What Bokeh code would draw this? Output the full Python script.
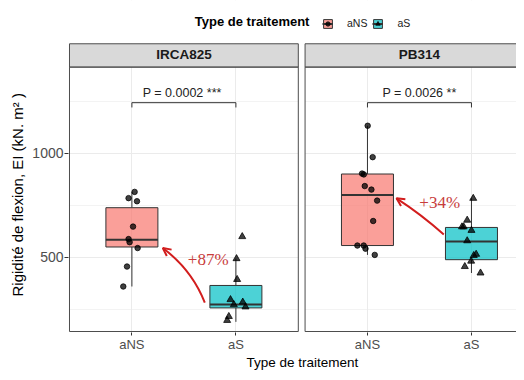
import math
from bokeh.plotting import figure
from bokeh.models import (Range1d, FixedTicker, CustomJSTickFormatter, Label, Legend, Title,
                          LegendItem, Arrow, OpenHead, ColumnDataSource)
from bokeh.embed import file_html
from bokeh.resources import INLINE
from bokeh.core.properties import value

# ---------------- data ----------------
genotypes = ["IRCA825", "PB314"]
treatments = ["aNS", "aS"]

# box statistics (one entry per genotype x treatment)
box_geno = ["IRCA825", "IRCA825", "PB314", "PB314"]
box_trt = ["aNS", "aS", "aNS", "aS"]
box_low = [360, 190, 512, 425]
box_q1 = [550, 257, 557, 489]
box_med = [585, 273, 800, 577]
box_q3 = [739, 365, 901, 644]
box_high = [815, 494, 1133, 784]

# individual (jittered) observations
irca_ans_vals = [815, 785, 770, 648, 588, 573, 545, 456, 360]
irca_ans_jit = [0.026, -0.032, 0.049, 0.011, -0.032, -0.022, 0.055, -0.047, -0.083]
irca_as_vals = [600, 494, 394, 297, 273, 285, 262, 216, 197]
irca_as_jit = [0.061, 0.006, 0.012, -0.052, -0.020, 0.066, 0.092, -0.068, -0.084]
pb_ans_vals = [1133, 982, 903, 899, 843, 826, 773, 675, 557, 557, 542, 512]
pb_ans_jit = [0.002, 0.050, -0.052, -0.035, -0.026, 0.038, 0.093, 0.055, -0.097, -0.036, -0.019, 0.070]
pb_as_vals = [784, 679, 647, 647, 630, 580, 515, 509, 482, 456, 425]
pb_as_jit = [0.017, -0.041, -0.091, -0.075, 0.0, -0.041, 0.045, 0.022, -0.003, -0.064, 0.087]

# statistical annotations
p_labels = ["P = 0.0002  ***", "P = 0.0026 **"]
bracket_y = [1244, 1244]
bracket_tip = [1221, 1221]
pct_labels = ["+87%", "+34%"]

# ---------------- layout helpers ----------------
panel_offset = {"IRCA825": 0.0, "PB314": 2.265}
trt_pos = {"aNS": 1.0, "aS": 2.0}
fill_col = {"aNS": "#F8766D", "aS": "#00BFC4"}
marker = {"aNS": "circle", "aS": "triangle"}
msize = {"aNS": 5.5, "aS": 7}
BOX_W = 0.5

X0, X1 = 0.3904, 4.698
Y0, Y1 = 138.8, 1735.4
PANEL_LO, PANEL_HI = 0.4, 2.6
PANEL_BOT, STRIP_BOT, STRIP_TOP = 143.6, 1415, 1527.3
RED = "#D21E1E"
FONT = "Liberation Sans"

p = figure(width=516, height=372, x_range=Range1d(X0, X1), y_range=Range1d(Y0, Y1),
           output_backend="svg", toolbar_location=None,
           min_border_left=68, min_border_right=0, min_border_top=0, min_border_bottom=40)
p.outline_line_color = None
p.background_fill_color = "white"
p.border_fill_color = "white"

# axes
tick_pos = [trt_pos[t] + panel_offset[g] for g in genotypes for t in treatments]
tick_lab = [t for g in genotypes for t in treatments]
p.xaxis.ticker = FixedTicker(ticks=tick_pos)
p.xaxis.formatter = CustomJSTickFormatter(args=dict(pos=tick_pos, labs=tick_lab), code="""
let best = 0, d = 1e9;
for (let i = 0; i < pos.length; i++) { const e = Math.abs(pos[i] - tick); if (e < d) { d = e; best = i; } }
return labs[best];
""")
p.yaxis.ticker = FixedTicker(ticks=[500, 1000], minor_ticks=[250, 750, 1250])
for ax in (p.xaxis[0], p.yaxis[0]):
    ax.axis_line_color = None
    ax.major_tick_line_color = "#333333"
    ax.minor_tick_line_color = None
    ax.major_tick_in = 0
    ax.major_label_text_font = FONT
    ax.major_label_text_color = "#4D4D4D"
p.xaxis.major_label_text_font_size = "13px"
p.yaxis.major_label_text_font_size = "14px"
p.xaxis.major_tick_out = 3
p.xaxis.major_label_standoff = 1
p.yaxis.major_tick_out = 4
p.yaxis.major_label_standoff = 1

p.xgrid.grid_line_color = "#EBEBEB"
p.ygrid.grid_line_color = "#EBEBEB"
p.ygrid.minor_grid_line_color = "#EBEBEB"
p.ygrid.minor_grid_line_width = 0.6

# axis titles (side titles, placed like the ggplot titles)
p.add_layout(Title(text="Type de traitement", align="left", offset=178, standoff=0,
                   text_font=FONT, text_font_size="13.5px", text_font_style="normal",
                   text_color="black", vertical_align="top"), "below")
p.add_layout(Title(text="Rigidité de flexion, EI (kN. m² )", align="left", offset=36,
                   standoff=8, text_font=FONT, text_font_size="15px",
                   text_font_style="normal", text_color="black"), "left")

# white covers outside the panels (hide grid lines there)
p.quad(left=[X0, PANEL_HI + panel_offset["IRCA825"], X0, X0],
       right=[PANEL_LO, PANEL_LO + panel_offset["PB314"], X1, X1],
       bottom=[Y0, Y0, STRIP_TOP, Y0], top=[Y1, Y1, Y1, PANEL_BOT],
       fill_color="white", line_color=None)

# strips
strip_left = [PANEL_LO + panel_offset[g] for g in genotypes]
strip_right = [PANEL_HI + panel_offset[g] for g in genotypes]
p.quad(left=strip_left, right=strip_right, bottom=STRIP_BOT, top=STRIP_TOP,
       fill_color="#D9D9D9", line_color="#4D4D4D", line_width=1)
p.text(x=[(a + b) / 2 for a, b in zip(strip_left, strip_right)], y=[1478, 1478], text=genotypes,
       text_font=value(FONT), text_font_size=value("13.5px"), text_font_style="bold",
       text_align="center", text_baseline="middle", text_color="#1A1A1A")

# boxplots + points
legend_items = []
for t in treatments:
    idx = [i for i, tt in enumerate(box_trt) if tt == t]
    xc = [trt_pos[t] + panel_offset[box_geno[i]] for i in idx]
    lo = [box_low[i] for i in idx]
    q1 = [box_q1[i] for i in idx]
    md = [box_med[i] for i in idx]
    q3 = [box_q3[i] for i in idx]
    hi = [box_high[i] for i in idx]
    p.segment(x0=xc, y0=q3, x1=xc, y1=hi, line_color="#333333", line_width=1)
    p.segment(x0=xc, y0=lo, x1=xc, y1=q1, line_color="#333333", line_width=1)
    rb = p.quad(left=[x - BOX_W / 2 for x in xc], right=[x + BOX_W / 2 for x in xc],
                bottom=q1, top=q3, fill_color=fill_col[t], fill_alpha=0.7,
                line_color="#333333", line_width=1)
    rm = p.segment(x0=[x - BOX_W / 2 for x in xc], y0=md, x1=[x + BOX_W / 2 for x in xc], y1=md,
                   line_color="#333333", line_width=2)
    if t == "aNS":
        groups = [("IRCA825", irca_ans_vals, irca_ans_jit), ("PB314", pb_ans_vals, pb_ans_jit)]
    else:
        groups = [("IRCA825", irca_as_vals, irca_as_jit), ("PB314", pb_as_vals, pb_as_jit)]
    px, py = [], []
    for g, vals, jit in groups:
        px += [trt_pos[t] + panel_offset[g] + j for j in jit]
        py += vals
    rp = p.scatter(x=px, y=py, marker=marker[t], size=msize[t], fill_color="black",
                   line_color="black", fill_alpha=0.75, line_alpha=0.75)
    legend_items.append(LegendItem(label=t, renderers=[rb, rm, rp]))

# panel borders
p.quad(left=strip_left, right=strip_right, bottom=PANEL_BOT, top=STRIP_BOT,
       fill_color=None, line_color="#4D4D4D", line_width=1)

# significance brackets
bx0 = [trt_pos["aNS"] + panel_offset[g] for g in genotypes]
bx1 = [trt_pos["aS"] + panel_offset[g] for g in genotypes]
p.segment(x0=bx0, y0=bracket_y, x1=bx1, y1=bracket_y, line_color="#333333", line_width=1)
p.segment(x0=bx0 + bx1, y0=bracket_y + bracket_y, x1=bx0 + bx1, y1=bracket_tip + bracket_tip,
          line_color="#333333", line_width=1)
p.text(x=[(a + b) / 2 for a, b in zip(bx0, bx1)], y=[1290, 1290], text=p_labels,
       text_font=value(FONT), text_font_size=value("12.5px"), text_align="center",
       text_baseline="middle", text_color="#222222")

# percentage annotations with curved arrows
arr_x0 = [1.701, 3.999]
arr_y0 = [282, 610]
arr_x1 = [1.297, 3.544]
arr_y1 = [545, 784]
arr_cx = [1.578, 3.785]
arr_cy = [440, 706]
p.quadratic(x0=arr_x0, y0=arr_y0, x1=arr_x1, y1=arr_y1, cx=arr_cx, cy=arr_cy,
            line_color=RED, line_width=2)
eps = 0.04
hs = ColumnDataSource(dict(
    xs=[e - eps * (e - c) for e, c in zip(arr_x1, arr_cx)],
    ys=[e - eps * (e - c) for e, c in zip(arr_y1, arr_cy)],
    xe=arr_x1, ye=arr_y1))
p.add_layout(Arrow(end=OpenHead(size=8, line_color=RED, line_width=2),
                   x_start="xs", y_start="ys", x_end="xe", y_end="ye", source=hs,
                   line_color=RED, line_width=2))
p.text(x=[1.734, 3.960], y=[491, 762], text=pct_labels, text_font=value("Liberation Serif"),
       text_font_size=value("17px"), text_align="center", text_baseline="middle",
       text_color="#C83C3C")

# legend
p.add_layout(Label(x=1.605, y=1634, text="Type de traitement", text_align="left",
                   text_baseline="middle", text_font=FONT, text_font_size="13px",
                   text_font_style="bold", text_color="black"))
legend = Legend(items=legend_items, orientation="horizontal", location=(254, 303),
                glyph_width=11, glyph_height=11, label_height=11, label_standoff=14,
                spacing=5, padding=0, margin=0, background_fill_alpha=0,
                border_line_color=None, label_text_font=FONT, label_text_font_size="10.5px",
                label_text_color="#1A1A1A")
p.add_layout(legend)

open("out.html", "w").write(file_html(p, INLINE))
